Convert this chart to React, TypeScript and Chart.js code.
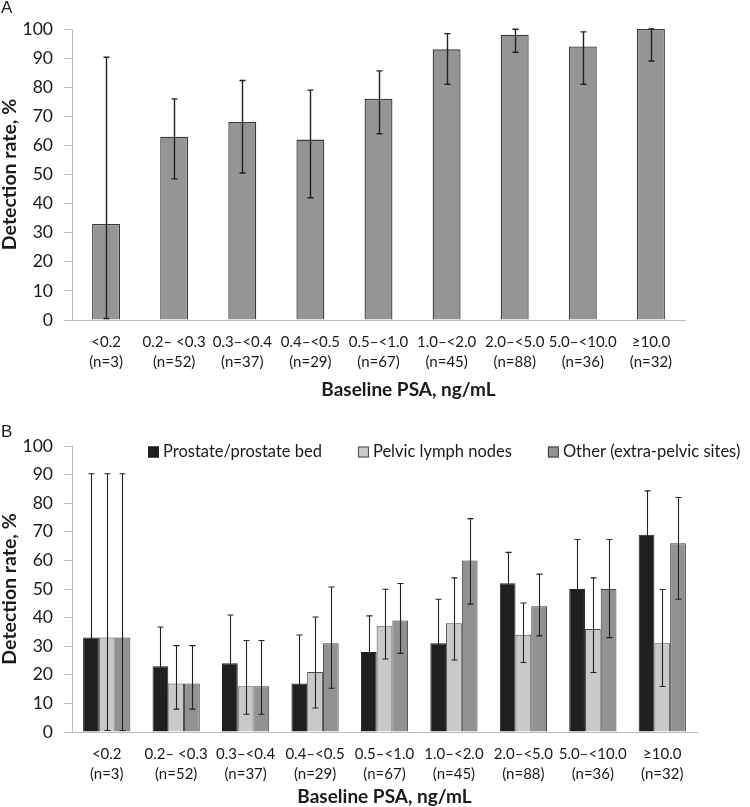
import React, { useEffect, useRef } from "react";
import { Chart, registerables } from "chart.js";

Chart.register(...registerables);

// ---------- data ----------
const rangeLabels = ["<0.2", "0.2– <0.3", "0.3–<0.4", "0.4–<0.5", "0.5–<1.0", "1.0–<2.0", "2.0–<5.0", "5.0–<10.0", "≥10.0"];
const nLabels = ["(n=3)", "(n=52)", "(n=37)", "(n=29)", "(n=67)", "(n=45)", "(n=88)", "(n=36)", "(n=32)"];
const yTicks = [0, 10, 20, 30, 40, 50, 60, 70, 80, 90, 100];

// Panel A: overall detection rate
const overall = [33, 63, 68, 62, 76, 93, 98, 94, 100];
const overallLow = [0.5, 48.5, 50.5, 42, 64, 81, 92, 81, 89];
const overallHigh = [90.3, 76, 82.3, 79, 85.6, 98.4, 99.9, 99, 100];

// Panel B: by region
const seriesNames = ["Prostate/prostate bed", "Pelvic lymph nodes", "Other (extra-pelvic sites)"];
const prostate = [33, 23, 24, 17, 28, 31, 52, 50, 69];
const prostateLow = [0.5, 12, 12, 7, 17, 18, 41, 33, 52];
const prostateHigh = [90.3, 36.7, 40.9, 33.9, 40.6, 46.4, 62.8, 67.3, 84.3];
const pelvic = [33, 17, 16, 21, 37, 38, 34, 36, 31];
const pelvicLow = [0.5, 8, 6.2, 8.4, 25.5, 25.2, 24.3, 20.8, 15.9];
const pelvicHigh = [90.3, 30.2, 32, 40.2, 49.9, 53.9, 45.1, 53.9, 49.8];
const other = [33, 17, 16, 31, 39, 60, 44, 50, 66];
const otherLow = [0.5, 8, 6.2, 15.3, 27.5, 44.7, 33.6, 33, 46.4];
const otherHigh = [90.3, 30.2, 32, 50.7, 51.9, 74.6, 55.2, 67.3, 82];

const xTitle = "Baseline PSA, ng/mL";
const yTitle = "Detection rate, %";

const FONT = "Lato, 'Open Sans', sans-serif";
const TEXT = "#1a1a1a";
const AXIS = "#bdbdbd";

// ---------- plugins ----------
const errorBarPlugin = {
  id: "errorBars",
  afterDatasetsDraw(chart: any, _a: any, opts: any) {
    const { ctx } = chart;
    const y = chart.scales.y;
    const sets = opts.sets || [];
    const cap = opts.cap || 3;
    ctx.save();
    ctx.strokeStyle = opts.color || "#222";
    ctx.lineWidth = opts.width || 1.2;
    sets.forEach((s: any, di: number) => {
      if (!s) return;
      const meta = chart.getDatasetMeta(di);
      meta.data.forEach((el: any, i: number) => {
        const x = Math.round(el.x) + 0.5;
        const yl = y.getPixelForValue(s.low[i]);
        const yh = y.getPixelForValue(s.high[i]);
        ctx.beginPath();
        ctx.moveTo(x, yl);
        ctx.lineTo(x, yh);
        ctx.moveTo(x - cap, yl);
        ctx.lineTo(x + cap, yl);
        ctx.moveTo(x - cap, yh);
        ctx.lineTo(x + cap, yh);
        ctx.stroke();
      });
    });
    ctx.restore();
  },
};

const decorPlugin = {
  id: "decor",
  afterDraw(chart: any, _a: any, opts: any) {
    const { ctx, chartArea } = chart;
    ctx.save();
    // panel letter
    if (opts.letter) {
      ctx.font = "17px 'Liberation Sans', Arial, sans-serif";
      ctx.fillStyle = TEXT;
      ctx.textBaseline = "alphabetic";
      ctx.textAlign = "left";
      ctx.fillText(opts.letter, opts.letterX, opts.letterY);
    }
    // x title
    ctx.font = "bold 19px " + FONT;
    ctx.fillStyle = TEXT;
    ctx.textAlign = "center";
    ctx.textBaseline = "middle";
    ctx.fillText(xTitle, (chartArea.left + chartArea.right) / 2 + (opts.xTitleShift || 0), chart.height - 10);
    // legend
    if (opts.legend) {
      ctx.font = "16.5px " + FONT;
      ctx.textAlign = "left";
      ctx.textBaseline = "middle";
      let x = chartArea.left + 76;
      const cy = chartArea.top + 6;
      chart.data.datasets.forEach((ds: any) => {
        ctx.fillStyle = ds.backgroundColor;
        ctx.fillRect(x, cy - 5.5, 11, 11);
        ctx.strokeStyle = ds.borderColor;
        ctx.lineWidth = 1;
        ctx.strokeRect(x + 0.5, cy - 5, 10, 10);
        ctx.fillStyle = TEXT;
        ctx.fillText(ds.label, x + 15, cy);
        x += 15 + ctx.measureText(ds.label).width + 36;
      });
    }
    ctx.restore();
  },
};

function makeOptions(opts: {
  padTop: number;
  padRight: number;
  xHeight: number;
  catPct: number;
  errSets: any[];
  errWidth: number;
  letter: string;
  letterY: number;
  legend: boolean;
  xTitleShift: number;
}) {
  return {
    responsive: false,
    animation: false as const,
    layout: { padding: { top: opts.padTop, right: opts.padRight, left: 0, bottom: 0 } },
    datasets: { bar: { categoryPercentage: opts.catPct, barPercentage: 1 } },
    scales: {
      x: {
        type: "category" as const,
        grid: { display: false, drawTicks: false, drawOnChartArea: false },
        border: { display: true, color: AXIS, width: 1 },
        ticks: {
          color: TEXT,
          font: { family: FONT, size: 15, lineHeight: 1.33 },
          padding: 12,
          maxRotation: 0,
          autoSkip: false,
        },
        afterFit(scale: any) {
          scale.height = opts.xHeight;
        },
      },
      y: {
        min: 0,
        max: 100,
        afterBuildTicks(scale: any) {
          scale.ticks = yTicks.map((v) => ({ value: v }));
        },
        grid: { display: true, drawOnChartArea: false, drawTicks: true, tickLength: 8, color: AXIS },
        border: { display: true, color: AXIS, width: 1 },
        ticks: { color: TEXT, font: { family: FONT, size: 17.5 }, padding: 11 },
        title: {
          display: true,
          text: yTitle,
          color: TEXT,
          font: { family: FONT, size: 19.5, weight: "bold" as const, lineHeight: 1 },
          padding: { top: 0, bottom: 0 },
        },
        afterFit(scale: any) {
          scale.width = 72;
        },
      },
    },
    plugins: {
      legend: { display: false },
      tooltip: { enabled: false },
      errorBars: { sets: opts.errSets, cap: 3, width: opts.errWidth, color: "#222" },
      decor: { letter: opts.letter, letterX: 1, letterY: opts.letterY, legend: opts.legend, xTitleShift: opts.xTitleShift },
    },
  };
}

function ChartCanvas({ width, height, build }: { width: number; height: number; build: () => any }) {
  const ref = useRef<HTMLCanvasElement | null>(null);
  useEffect(() => {
    if (!ref.current) return;
    const chart = new Chart(ref.current, build());
    return () => chart.destroy();
  }, []);
  return <canvas ref={ref} width={width} height={height} style={{ display: "block", width, height }} />;
}

const labels = rangeLabels.map((r, i) => [r, nLabels[i]]);

function buildA() {
  return {
    type: "bar" as const,
    data: {
      labels,
      datasets: [
        {
          label: "Overall",
          data: overall,
          backgroundColor: "#959595",
          borderColor: "#3a3a3a",
          borderWidth: 1.3,
          borderSkipped: "start" as const,
        },
      ],
    },
    options: makeOptions({
      padTop: 29,
      padRight: 65,
      xHeight: 80,
      catPct: 0.41,
      errSets: [{ low: overallLow, high: overallHigh }],
      errWidth: 1.4,
      letter: "A",
      letterY: 13,
      legend: false,
      xTitleShift: 30,
    }),
    plugins: [errorBarPlugin, decorPlugin],
  };
}

function buildB() {
  return {
    type: "bar" as const,
    data: {
      labels,
      datasets: [
        { label: seriesNames[0], data: prostate, backgroundColor: "#1f1f1f", borderColor: "#1f1f1f", borderWidth: 1 },
        { label: seriesNames[1], data: pelvic, backgroundColor: "#c9c9c9", borderColor: "#4a4a4a", borderWidth: 1 },
        { label: seriesNames[2], data: other, backgroundColor: "#929292", borderColor: "#3f3f3f", borderWidth: 1 },
      ],
    },
    options: makeOptions({
      padTop: 46,
      padRight: 53,
      xHeight: 75,
      catPct: 0.68,
      errSets: [
        { low: prostateLow, high: prostateHigh },
        { low: pelvicLow, high: pelvicHigh },
        { low: otherLow, high: otherHigh },
      ],
      errWidth: 1.1,
      letter: "B",
      letterY: 37,
      legend: true,
      xTitleShift: 0,
    }),
    plugins: [errorBarPlugin, decorPlugin],
  };
}

export default function App() {
  useEffect(() => {
    document.body.style.margin = "0";
    document.body.style.background = "#ffffff";
  }, []);
  return (
    <div style={{ width: 750, height: 807, background: "#fff", position: "relative" }}>
      <ChartCanvas width={750} height={400} build={buildA} />
      <ChartCanvas width={750} height={407} build={buildB} />
    </div>
  );
}
